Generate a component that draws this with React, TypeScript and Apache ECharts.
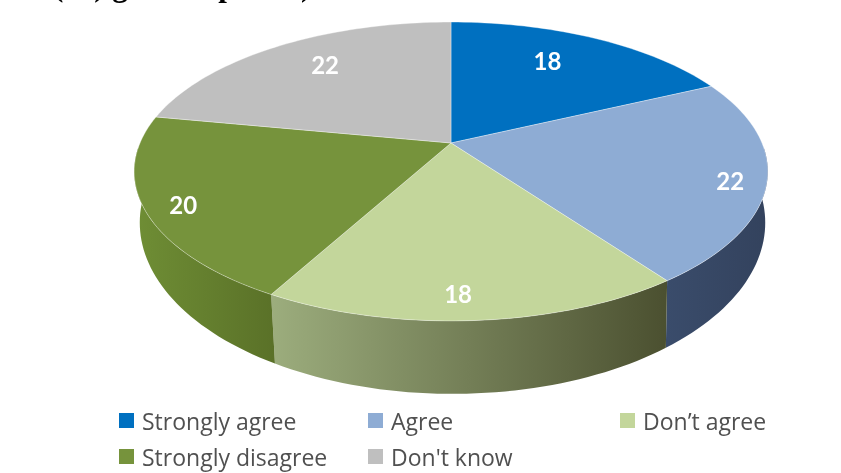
import React, { useEffect, useRef } from "react";
import * as echarts from "echarts";

const categories = ["Strongly agree", "Agree", "Don’t agree", "Strongly disagree", "Don't know"];
const values = [18, 22, 18, 20, 22];
const topColors = ["#0070c0", "#8eacd4", "#c3d69b", "#76933c", "#bfbfbf"];
const sideColors = [
  ["#00508a", "#00508a"],
  ["#3a4c6b", "#33425d"],
  ["#9cad7d", "#4b5030"],
  ["#6f8e35", "#5a7128"],
  ["#8a8a8a", "#8a8a8a"],
];
const headerText = "r (%) general public)";

// Label nudges from each slice's projected mid-angle, in pixels.
const labelNudge = [[-15, -1], [45, 10], [-10, 25], [-43, 13], [8, -4]];
const legendSlots = [
  { left: 119, top: 409 },
  { left: 368, top: 409 },
  { left: 620, top: 409 },
  { left: 119, top: 445 },
  { left: 368, top: 445 },
];

const total = values.reduce((a, b) => a + b, 0);
const CX = 451;
const K = 0.1906;
const TOP = { cx: CX, y0: 143, A: 144, B: 311 };
const BOTTOM = { cx: CX + 1.5, y0: 190, A: 165, B: 307 };
const SIDE_FROM = 92;
const SIDE_TO = 268;

function project(deg: number, r: number, f: typeof TOP) {
  const a = (deg * Math.PI) / 180;
  const u = r * Math.sin(a);
  const v = r * Math.cos(a);
  const d = 1 + K * v;
  return [f.cx + (f.B * u) / d, f.y0 - (f.A * v) / d];
}

function arc(from: number, to: number, f: typeof TOP) {
  const n = Math.max(2, Math.ceil(Math.abs(to - from) / 1.5));
  const pts: number[][] = [];
  for (let i = 0; i <= n; i++) pts.push(project(from + ((to - from) * i) / n, 1, f));
  return pts;
}

function makeRenderItem(index: number) {
  return (_params: any, api: any) => {
    const before = values.slice(0, index).reduce((a, b) => a + b, 0);
    const value = api.value(0);
    const start = (before / total) * 360;
    const end = ((before + value) / total) * 360;
    const children: any[] = [];
    const sFrom = Math.max(start, SIDE_FROM);
    const sTo = Math.min(end, SIDE_TO);
    if (sTo > sFrom) {
      children.push({
        type: "polygon",
        shape: { points: [...arc(sFrom, sTo, TOP), ...arc(sTo, sFrom, BOTTOM)] },
        style: {
          fill: new echarts.graphic.LinearGradient(0, 0, 1, 0, [
            { offset: 0, color: sideColors[index][0] },
            { offset: 1, color: sideColors[index][1] },
          ]),
          stroke: "none",
        },
      });
    }
    children.push({
      type: "polygon",
      shape: { points: [[CX, TOP.y0], ...arc(start, end, TOP)] },
      style: { fill: topColors[index], stroke: "rgba(255,255,255,0.35)", lineWidth: 1 },
    });
    const mid = project((start + end) / 2, 0.75, TOP);
    children.push({
      type: "text",
      z2: 10,
      style: {
        text: String(value),
        x: mid[0] + labelNudge[index][0],
        y: mid[1] + labelNudge[index][1],
        fill: "#ffffff",
        font: "bold 24px Lato",
        textAlign: "center",
        textVerticalAlign: "middle",
        verticalAlign: "middle",
      },
    });
    return { type: "group", children };
  };
}

export default function App() {
  const ref = useRef<HTMLDivElement>(null);
  useEffect(() => {
    document.body.style.margin = "0";
    const chart = echarts.init(ref.current!, undefined, { renderer: "svg" });
    chart.setOption({
      animation: false,
      backgroundColor: "#ffffff",
      legend: categories.map((name, i) => ({
        data: [name],
        left: legendSlots[i].left,
        top: legendSlots[i].top,
        icon: "rect",
        itemWidth: 15,
        itemHeight: 15,
        itemGap: 0,
        padding: 0,
        selectedMode: false,
        textStyle: { fontFamily: "Open Sans", fontSize: 23, color: "#505050", padding: [0, 0, 0, 3] },
      })),
      graphic: [
        {
          type: "text",
          x: 32,
          y: 1,
          style: {
            text: headerText,
            font: "bold 31px 'Liberation Serif'",
            fill: "#000000",
            textVerticalAlign: "bottom",
            verticalAlign: "bottom",
          },
        },
      ],
      series: categories.map((name, i) => ({
        type: "custom",
        name,
        coordinateSystem: "none",
        data: [[values[i]]],
        itemStyle: { color: topColors[i] },
        renderItem: makeRenderItem(i),
      })),
    });
    return () => chart.dispose();
  }, []);
  return <div ref={ref} style={{ width: 841, height: 473, filter: "blur(0.5px)" }} />;
}
